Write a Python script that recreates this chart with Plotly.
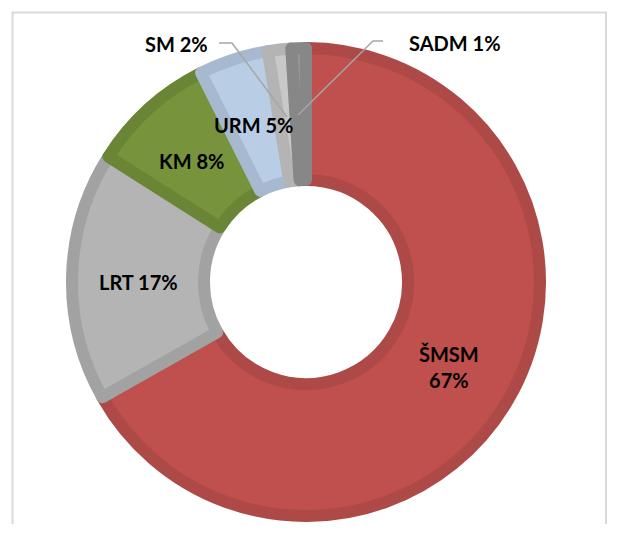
import plotly.graph_objects as go

labels = ["ŠMSM", "LRT", "KM", "URM", "SM", "SADM"]
values = [66.8, 17.2, 8.6, 4.8, 1.6, 1.0]
pct_text = ["67%", "17%", "8%", "5%", "2%", "1%"]
fill_colors = ["#C0504D", "#B4B4B4", "#77933C", "#B9CDE5", "#C8C8C8", "#969696"]
line_colors = ["#AD4946", "#A2A2A2", "#6B8536", "#A7B9CF", "#B4B4B4", "#878787"]

OFF = 8  # page body margin
W, H = 600, 516
def px(x):
    return (x - OFF) / W
def py(y):
    return 1 - (y - OFF) / H

cx, cy, R = 306, 282, 234
LW = 12

fig = go.Figure()
fig.add_trace(go.Pie(
    labels=labels, values=values, sort=False, direction="clockwise", rotation=0,
    hole=(96 + LW / 2) / R, textinfo="none", hoverinfo="label+percent", showlegend=False,
    marker=dict(colors=fill_colors, line=dict(color=line_colors, width=LW)),
    domain=dict(x=[px(cx - R), px(cx + R)], y=[py(cy + R), py(cy - R)]),
))

# label placement (pixel positions of label centres)
label_pos = {
    "ŠMSM": (449, 367),
    "LRT": (138, 282),
    "KM": (191, 161),
    "URM": (253, 125),
    "SM": (176, 44),
    "SADM": (455, 43),
}
font = dict(family="Lato, Carlito, Liberation Sans, sans-serif", size=20, color="black")
for lab, p in zip(labels, pct_text):
    x, y = label_pos[lab]
    txt = f"<b>{lab}<br>{p}</b>" if lab == "ŠMSM" else f"<b>{lab} {p}</b>"
    fig.add_annotation(x=px(x), y=py(y), xref="paper", yref="paper", text=txt,
                       showarrow=False, font=font, xanchor="center", yanchor="middle",
                       align="center")

def path(points):
    return "M " + " L ".join(f"{px(a)},{py(b)}" for a, b in points)

leader = dict(color="#A6A6A6", width=1.5)
fig.add_shape(type="path", xref="paper", yref="paper",
              path=path([(219, 43), (232, 43), (287, 117)]), line=leader)
fig.add_shape(type="path", xref="paper", yref="paper",
              path=path([(383, 41), (373, 41), (298, 115)]), line=leader)

# chart frame
fig.add_shape(type="rect", xref="paper", yref="paper",
              x0=px(12.5), x1=px(606), y0=py(545), y1=py(12.5),
              line=dict(color="#D9D9D9", width=2), layer="below")

fig.update_layout(width=W, height=H, margin=dict(l=0, r=0, t=0, b=0),
                  paper_bgcolor="white", plot_bgcolor="white")
fig.write_html("out.html")
